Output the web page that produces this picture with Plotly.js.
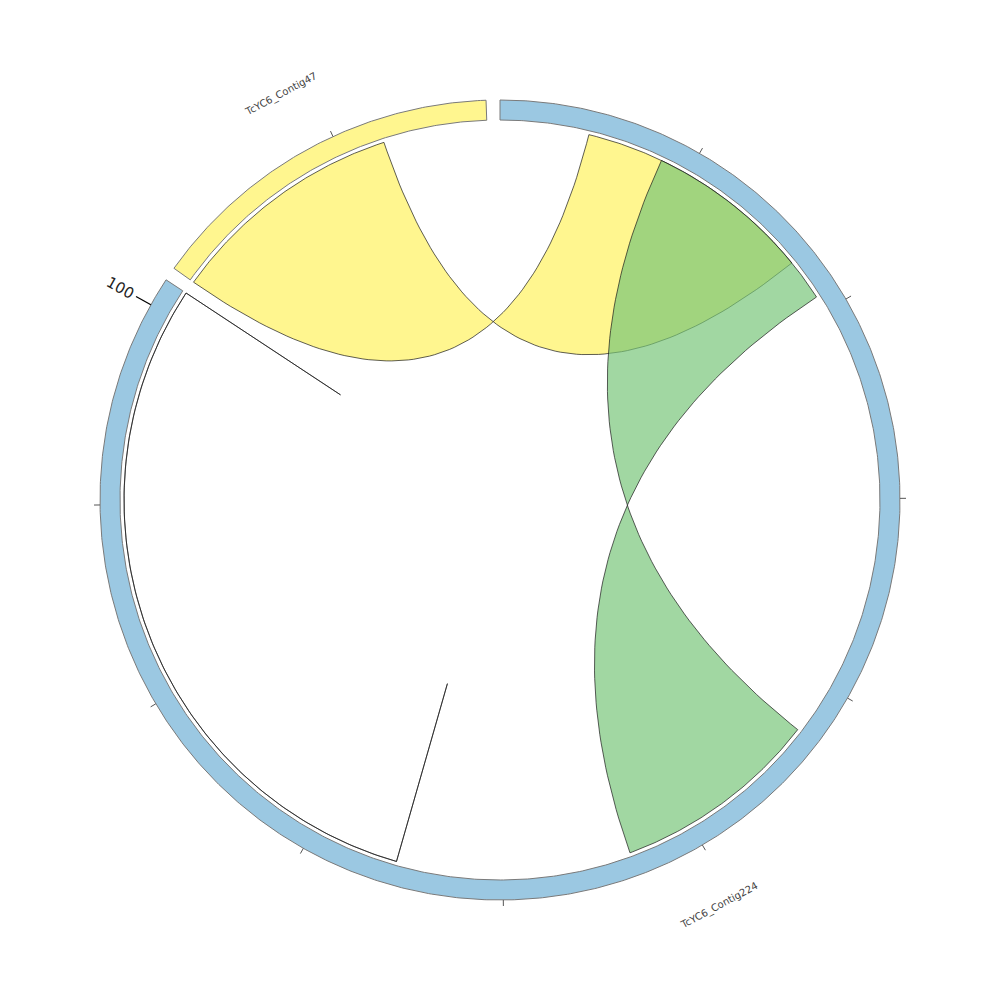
<!DOCTYPE html>
<html><head><meta charset="utf-8">
<script src="https://cdn.plot.ly/plotly-3.0.1.min.js"></script>
<style>html,body{margin:0;padding:0;background:#fff}#chart{width:1000px;height:1000px}</style>
</head><body><div id="chart"></div>
<script>
// ---- data ----
const sectorNames = ["TcYC6_Contig224", "TcYC6_Contig47"];
const sectorLengths = [101.4, 17.58];
const tickStep = 10;
const labelStep = 100;
const linkSource = ["TcYC6_Contig47", "TcYC6_Contig224", "TcYC6_Contig224"];
const linkSourceStart = [0, 8.5, 65.5];
const linkSourceEnd = [12.24, 19.16, 101.4];
const linkTarget = ["TcYC6_Contig224", "TcYC6_Contig224", "TcYC6_Contig224"];
const linkTargetStart = [17.02, 53.4, 101.4];
const linkTargetEnd = [4.57, 42.66, 65.5];

// ---- styles ----
const sectorColors = ["#9bc8e2", "#fff68f"];
const linkColors = ["rgba(255,246,143,1)", "rgba(116,196,118,0.68)", "rgba(255,255,255,0)"];
const SPACE = 2, R_IN = 380, R_OUT = 400, R_LINK = 376, R_CTRL = 6;
const MINOR_LEN = 6, MAJOR_LEN = 17, R_TICKLABEL = 435, R_NAME = 461;

// ---- scales ----
const total = sectorLengths.reduce((a, b) => a + b, 0);
const degPerUnit = (360 - SPACE * sectorNames.length) / total;
const sectorStart = [];
let acc = 0;
sectorLengths.forEach((L, i) => { sectorStart.push(acc); acc += L * degPerUnit + SPACE; });
function ang(name, pos) { const i = sectorNames.indexOf(name); return sectorStart[i] + pos * degPerUnit; }
function pt(deg, r) { const a = deg * Math.PI / 180; return [r * Math.sin(a), r * Math.cos(a)]; }
function arc(d1, d2, r) {
  const n = Math.max(2, Math.ceil(Math.abs(d2 - d1) / 0.4));
  const out = [];
  for (let k = 0; k <= n; k++) out.push(pt(d1 + (d2 - d1) * k / n, r));
  return out;
}
function bez(d0, d2) {
  const p0 = pt(d0, R_LINK), p2 = pt(d2, R_LINK);
  const a0 = d0 * Math.PI / 180, a2 = d2 * Math.PI / 180;
  const mean = Math.atan2(Math.sin(a0) + Math.sin(a2), Math.cos(a0) + Math.cos(a2)) * 180 / Math.PI;
  const c = pt(mean, R_CTRL);
  const out = [], n = 80;
  for (let k = 1; k < n; k++) {
    const t = k / n, a = (1 - t) * (1 - t), b = 2 * t * (1 - t), e = t * t;
    out.push([a * p0[0] + b * c[0] + e * p2[0], a * p0[1] + b * c[1] + e * p2[1]]);
  }
  return out;
}

const traces = [];
// sectors
sectorNames.forEach((name, i) => {
  const d1 = ang(name, 0), d2 = ang(name, sectorLengths[i]);
  const pts = arc(d1, d2, R_OUT).concat(arc(d2, d1, R_IN));
  pts.push(pts[0]);
  traces.push({type: "scatter", mode: "lines", x: pts.map(p => p[0]), y: pts.map(p => p[1]),
    fill: "toself", fillcolor: sectorColors[i], line: {color: "#7a7a7a", width: 1}, hoverinfo: "skip"});
});
// links
linkSource.forEach((s, i) => {
  const a1 = ang(s, linkSourceStart[i]), a2 = ang(s, linkSourceEnd[i]);
  const b1 = ang(linkTarget[i], linkTargetStart[i]), b2 = ang(linkTarget[i], linkTargetEnd[i]);
  let pts = arc(a1, a2, R_LINK);
  pts = pts.concat(bez(a2, b1));
  pts = pts.concat(arc(b1, b2, R_LINK));
  pts = pts.concat(bez(b2, a1));
  pts.push(pts[0]);
  traces.push({type: "scatter", mode: "lines", x: pts.map(p => p[0]), y: pts.map(p => p[1]),
    fill: "toself", fillcolor: linkColors[i], line: {color: "#1a1a1a", width: 0.7}, hoverinfo: "skip"});
});
// ticks
const minorX = [], minorY = [], majorX = [], majorY = [], annotations = [];
sectorNames.forEach((name, i) => {
  for (let k = 1; k * tickStep <= sectorLengths[i]; k++) {
    const v = k * tickStep, d = ang(name, v);
    const major = (v % labelStep) === 0;
    const p1 = pt(d, R_OUT), p2 = pt(d, R_OUT + (major ? MAJOR_LEN : MINOR_LEN));
    const X = major ? majorX : minorX, Y = major ? majorY : minorY;
    X.push(p1[0], p2[0], null); Y.push(p1[1], p2[1], null);
    if (major) {
      const lp = pt(d, R_TICKLABEL);
      const ta = d >= 180 ? d - 270 : d - 90;
      annotations.push({x: lp[0], y: lp[1], text: String(v), showarrow: false, textangle: ta,
        font: {family: "DejaVu Sans", size: 15, color: "#222"}});
    }
  }
  const mid = ang(name, sectorLengths[i] / 2);
  const np = pt(mid, R_NAME);
  let ta = mid % 360;
  if (ta > 90 && ta < 270) ta -= 180; else if (ta >= 270) ta -= 360;
  annotations.push({x: np[0], y: np[1], text: name, showarrow: false, textangle: ta,
    font: {family: "DejaVu Sans", size: 10, color: "#444"}});
});
traces.push({type: "scatter", mode: "lines", x: minorX, y: minorY, line: {color: "#555", width: 1}, hoverinfo: "skip"});
traces.push({type: "scatter", mode: "lines", x: majorX, y: majorY, line: {color: "#000", width: 1.3}, hoverinfo: "skip"});

const layout = {
  width: 1000, height: 1000, margin: {l: 0, r: 0, t: 0, b: 0},
  paper_bgcolor: "#fff", plot_bgcolor: "#fff", showlegend: false,
  xaxis: {range: [-500, 500], visible: false, fixedrange: true},
  yaxis: {range: [-500, 500], visible: false, fixedrange: true, scaleanchor: "x"},
  annotations: annotations
};
Plotly.newPlot("chart", traces, layout, {staticPlot: true, displayModeBar: false});
</script></body></html>
